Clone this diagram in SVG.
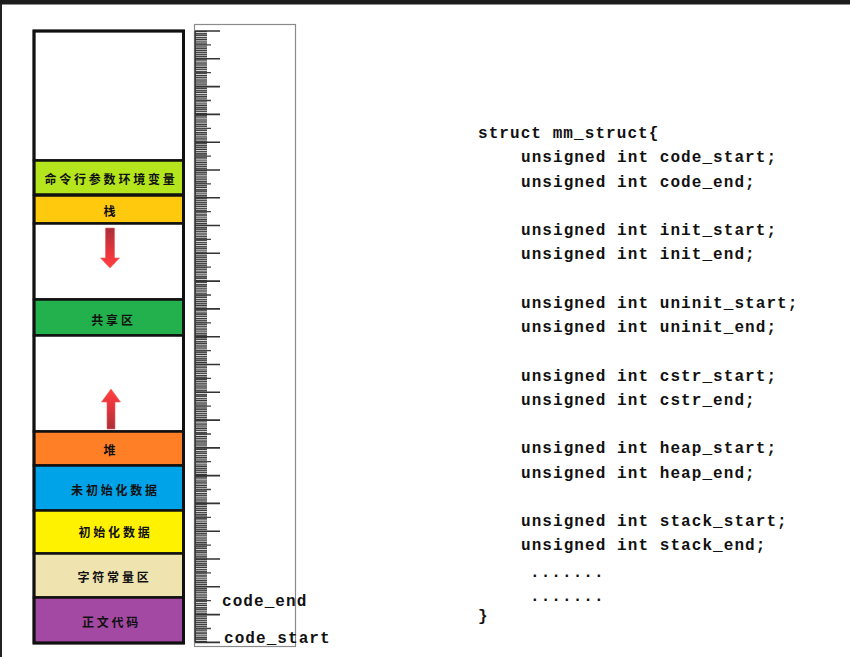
<svg xmlns="http://www.w3.org/2000/svg" width="850" height="657" viewBox="0 0 850 657">
<style>
.sec{stroke:#111;stroke-width:2.5}
.lbl{font-family:"Noto Sans CJK SC","Noto Sans CJK JP",sans-serif;font-weight:bold;font-size:12px;letter-spacing:2.8px;fill:#111;text-anchor:middle;dominant-baseline:central}
.code{font-family:"Liberation Mono","DejaVu Sans Mono",monospace;font-weight:bold;font-size:16px;letter-spacing:1.07px;fill:#111}
</style>
<defs>
<linearGradient id="gDown" x1="0" y1="0" x2="0" y2="1">
<stop offset="0" stop-color="#a8303a"/>
<stop offset="0.6" stop-color="#e8353c"/>
<stop offset="1" stop-color="#ff4040"/>
</linearGradient>
<linearGradient id="gUp" x1="0" y1="1" x2="0" y2="0">
<stop offset="0" stop-color="#a8303a"/>
<stop offset="0.6" stop-color="#e8353c"/>
<stop offset="1" stop-color="#ff4040"/>
</linearGradient>
</defs>
<rect width="850" height="657" fill="#fff"/>
<rect x="0" y="0" width="850" height="4.5" fill="#1c1c1c"/>
<line x1="1" y1="4" x2="1" y2="657" stroke="#222" stroke-width="2"/>

<g id="mem-top"><rect class="sec" x="34" y="31" width="149.5" height="129.5" fill="#fff"/></g>
<g id="args-env"><rect class="sec" x="34" y="160.5" width="149.5" height="34" fill="#b5e61d"/><text class="lbl" x="111" y="178">命令行参数环境变量</text></g>
<g id="stack"><rect class="sec" x="34" y="195.5" width="149.5" height="28" fill="#ffc90e"/><text class="lbl" x="111" y="210">栈</text></g>
<g id="gap1"><rect class="sec" x="34" y="223.5" width="149.5" height="76" fill="#fff"/>
<polygon points="105.5,228 114.5,228 114.5,258 119.5,258 110,268 100.5,258 105.5,258" fill="url(#gDown)" stroke="#f06060" stroke-width="0.6"/></g>
<g id="shared"><rect class="sec" x="34" y="299.5" width="149.5" height="36" fill="#22b14c"/><text class="lbl" x="113.5" y="319">共享区</text></g>
<g id="gap2"><rect class="sec" x="34" y="335.5" width="149.5" height="96" fill="#fff"/>
<polygon points="111,389 120.5,402 115,402 115,429 107,429 107,402 101.5,402" fill="url(#gUp)" stroke="#f06060" stroke-width="0.6"/></g>
<g id="heap"><rect class="sec" x="34" y="431.5" width="149.5" height="34" fill="#ff7f27"/><text class="lbl" x="111" y="449">堆</text></g>
<g id="bss"><rect class="sec" x="34" y="465.5" width="149.5" height="45" fill="#00a2e8"/><text class="lbl" x="115.5" y="489">未初始化数据</text></g>
<g id="data"><rect class="sec" x="34" y="510.5" width="149.5" height="43" fill="#fff200"/><text class="lbl" x="115.5" y="531">初始化数据</text></g>
<g id="rodata"><rect class="sec" x="34" y="553.5" width="149.5" height="44" fill="#efe4b0"/><text class="lbl" x="114.5" y="576">字符常量区</text></g>
<g id="text-seg"><rect class="sec" x="34" y="597.5" width="149.5" height="45.5" fill="#a349a4"/><text class="lbl" x="111.5" y="621">正文代码</text></g>
<rect x="34" y="31" width="149.5" height="612" fill="none" stroke="#111" stroke-width="3"/>

<g id="ruler">
<rect x="194.5" y="24.5" width="101" height="622" fill="#fff" stroke="#8a8a8a" stroke-width="1.2"/>
<line x1="201" y1="31" x2="201" y2="642" stroke="#4c4c4c" stroke-width="12" stroke-dasharray="1.3 0.6"/>
<line x1="201" y1="31" x2="201" y2="642" stroke="#222" stroke-width="12" stroke-dasharray="0.9 2.3 0.9 4.1" opacity="0.5"/>
<line x1="195.2" y1="31" x2="195.2" y2="642" stroke="#333" stroke-width="1.4"/>
<path d="M195 44.9H211M195 72.7H211M195 100.5H211M195 128.3H211M195 156.1H211M195 183.8H211M195 211.6H211M195 239.4H211M195 267.2H211M195 295H211M195 322.8H211M195 350.6H211M195 378.4H211M195 406.2H211M195 434H211M195 461.7H211M195 489.5H211M195 517.3H211M195 545.1H211M195 572.9H211M195 600.7H211M195 628.5H211" stroke="#444" stroke-width="1.3" fill="none"/>
<path d="M195 31H220M195 58.8H220M195 86.6H220M195 114.4H220M195 142.2H220M195 170H220M195 197.7H220M195 225.5H220M195 253.3H220M195 281.1H220M195 308.9H220M195 336.7H220M195 364.5H220M195 392.3H220M195 420.1H220M195 447.9H220M195 475.6H220M195 503.4H220M195 531.2H220M195 559H220M195 586.8H220M195 614.6H220M195 642.4H220" stroke="#333" stroke-width="1.6" fill="none"/>
</g>
<g id="ruler-labels">
<text class="code" x="222" y="606">code_end</text>
<text class="code" x="224" y="643">code_start</text>
</g>

<g id="mm-struct">
<text class="code" x="478" y="138">struct mm_struct{</text>
<text class="code" x="521" y="162">unsigned int code_start;</text>
<text class="code" x="521" y="187">unsigned int code_end;</text>
<text class="code" x="521" y="235">unsigned int init_start;</text>
<text class="code" x="521" y="259">unsigned int init_end;</text>
<text class="code" x="521" y="308">unsigned int uninit_start;</text>
<text class="code" x="521" y="332">unsigned int uninit_end;</text>
<text class="code" x="521" y="381">unsigned int cstr_start;</text>
<text class="code" x="521" y="405">unsigned int cstr_end;</text>
<text class="code" x="521" y="453">unsigned int heap_start;</text>
<text class="code" x="521" y="478">unsigned int heap_end;</text>
<text class="code" x="521" y="526">unsigned int stack_start;</text>
<text class="code" x="521" y="550">unsigned int stack_end;</text>
<text class="code" x="530" y="577">.......</text>
<text class="code" x="530" y="601">.......</text>
<text class="code" x="478" y="621">}</text>
</g>
</svg>
